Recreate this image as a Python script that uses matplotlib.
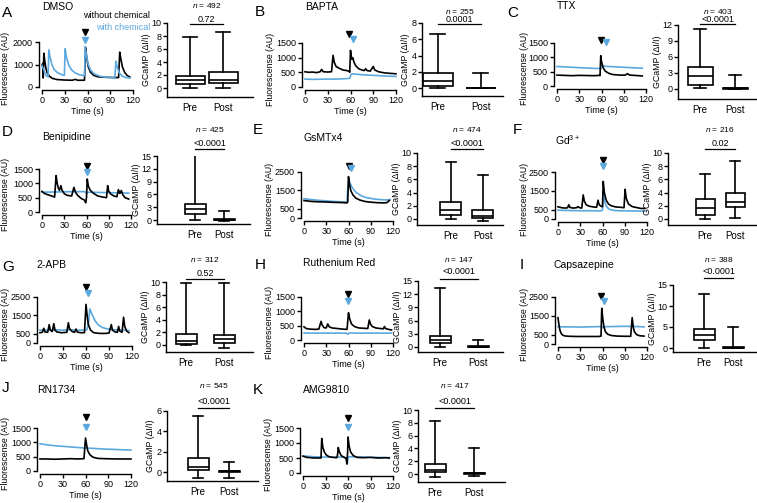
import matplotlib

matplotlib.use("Agg")
import matplotlib.pyplot as plt
from matplotlib.lines import Line2D

W, H = 757, 503
BLUE = "#5BA8DE"

plt.rcParams["font.family"] = ["Liberation Sans", "DejaVu Sans"]
plt.rcParams["mathtext.fontset"] = "custom"
plt.rcParams["mathtext.rm"] = "Liberation Sans"
plt.rcParams["mathtext.it"] = "Liberation Sans:italic"

# --- panel labels ---------------------------------------------------------
panels = ["A", "B", "C", "D", "E", "F", "G", "H", "I", "J", "K"]
drugs = ["DMSO", "BAPTA", "TTX", "Benipidine", "GsMTx4", "Gd$^{3+}$", "2-APB",
         "Ruthenium Red", "Capsazepine", "RN1734", "AMG9810"]
n_cells = [492, 255, 403, 425, 474, 216, 312, 147, 388, 545, 417]
p_values = ["0.72", "0.0001", "<0.0001", "<0.0001", "<0.0001", "0.02", "0.52",
            "<0.0001", "<0.0001", "<0.0001", "<0.0001"]

# --- example traces (time s, fluorescence AU) -----------------------------
trace_black = {
    "A": [(0, 950), (1, 1050), (1.6, 400), (2.4, 1500), (3.5, 1200), (5, 850), (7, 620),
          (10, 470), (14, 380), (20, 330), (30, 310), (40, 300), (44, 340), (47, 300),
          (56, 300), (57.5, 1750), (59, 1300), (61, 900), (64, 650), (68, 520), (74, 450),
          (85, 430), (95, 420), (101, 420), (102.5, 1550), (104, 1250), (106, 900),
          (109, 650), (112, 520), (116, 440)],
    "B": [(0, 520), (5, 500), (10, 510), (15, 490), (20, 520), (22, 600), (24, 520),
          (30, 510), (35, 520), (37, 1080), (38.5, 850), (41, 700), (45, 640), (50, 580),
          (55, 560), (58, 540), (59, 500), (60, 1250), (61.5, 950), (63, 1000),
          (64.5, 850), (67, 720), (71, 620), (75, 580), (78, 560), (80, 620), (82, 560),
          (86, 540), (90, 700), (92, 580), (97, 520), (105, 480), (110, 470), (115, 460),
          (120, 450)],
    "C": [(0, 380), (10, 370), (20, 360), (30, 370), (40, 365), (50, 360), (57, 370),
          (58, 360), (59, 1060), (60, 850), (62, 650), (65, 520), (70, 440), (75, 400),
          (85, 380), (92, 380), (95, 430), (98, 380), (105, 370), (115, 350)],
    "D": [(0, 720), (3, 650), (8, 600), (13, 560), (17, 520), (19, 1270), (20.5, 1000),
          (22, 830), (23.5, 760), (25.5, 920), (27, 760), (30, 640), (34, 580), (40, 560),
          (43, 860), (45, 700), (48, 580), (53, 470), (57, 420), (59, 320), (60, 500),
          (61, 1150), (62.5, 900), (65, 760), (69, 660), (75, 560), (82, 520), (87, 500),
          (88.5, 920), (90, 720), (93, 620), (97, 560), (101, 530), (103, 780), (105, 650),
          (107, 750), (109, 600), (112, 500), (117, 450)],
    "E": [(0, 950), (10, 900), (20, 880), (30, 870), (40, 850), (50, 840), (58, 820),
          (59, 880), (60, 2250), (61.5, 1800), (63, 1500), (66, 1250), (70, 1080),
          (75, 980), (82, 900), (90, 860), (100, 830), (108, 820), (112, 840), (115, 950)],
    "F": [(0, 650), (5, 600), (10, 580), (13, 600), (14.5, 760), (16, 620), (20, 580),
          (25, 600), (27, 660), (29, 600), (32, 580), (34, 1280), (35.5, 950), (38, 760),
          (42, 680), (48, 640), (52, 620), (54, 1000), (55.5, 760), (58, 680), (60, 650),
          (61, 2000), (62.5, 1400), (65, 1000), (68, 800), (72, 700), (78, 640), (85, 620),
          (89, 600), (90.5, 1580), (92, 1100), (95, 800), (100, 660), (107, 600),
          (112, 560), (117, 560)],
    "G": [(0, 560), (3, 580), (5, 800), (6.5, 600), (10, 580), (12, 1000), (13.5, 700),
          (16, 620), (18, 1050), (19.5, 700), (22, 600), (28, 560), (35, 580), (37, 1100),
          (38.5, 780), (42, 620), (45, 580), (47, 760), (48.5, 600), (53, 560), (58, 560),
          (60, 2100), (61.5, 1500), (63, 1000), (66, 700), (70, 560), (78, 520), (85, 520),
          (90, 540), (93, 1000), (94.5, 700), (98, 600), (101, 580), (102.5, 900),
          (104, 650), (107, 580), (109, 1400), (110.5, 900), (113, 650), (116, 560)],
    "H": [(0, 460), (3, 400), (8, 380), (15, 370), (20, 380), (23, 650), (24.5, 520),
          (27, 430), (30, 420), (32, 560), (34, 460), (38, 420), (45, 400), (52, 380),
          (58, 370), (60, 950), (61.5, 750), (64, 560), (68, 470), (74, 420), (80, 410),
          (86, 400), (88, 700), (89.5, 560), (92, 470), (97, 420), (103, 400), (107, 390),
          (108.5, 470), (110, 400), (114, 370), (118, 350)],
    "I": [(0, 1400), (1, 1100), (2.5, 750), (4, 580), (6, 480), (9, 430), (15, 410),
          (25, 400), (35, 400), (45, 400), (55, 400), (58, 420), (59, 1900), (60.5, 1300),
          (62, 900), (64, 650), (67, 520), (72, 450), (80, 420), (90, 410), (98, 410),
          (100, 1400), (101.5, 900), (103, 650), (106, 500), (110, 440), (116, 420)],
    "J": [(0, 420), (10, 420), (20, 410), (30, 420), (40, 430), (50, 420), (58, 430),
          (59, 800), (60, 1150), (61.5, 900), (63, 700), (66, 560), (70, 480), (76, 440),
          (85, 430), (100, 420), (120, 420)],
    "K": [(0, 560), (5, 520), (10, 510), (15, 500), (20, 500), (24, 500), (25, 1150),
          (26.5, 850), (28.5, 700), (31, 600), (35, 540), (40, 520), (45, 510), (46, 600),
          (47, 850), (48.5, 700), (51, 580), (55, 520), (57.5, 480), (58.5, 300),
          (59.5, 700), (60, 1200), (61.5, 900), (63.5, 700), (67, 580), (72, 520),
          (80, 510), (90, 520), (100, 500), (110, 510), (115, 500)],
}
trace_blue = {
    "A": [(0, 950), (2, 800), (5, 520), (8, 450), (9, 1650), (10.5, 1350), (13, 1000),
          (16, 780), (20, 650), (25, 560), (29.5, 520), (30.5, 1700), (32, 1350),
          (35, 1000), (39, 760), (44, 620), (50, 540), (56, 500), (57, 1800),
          (58.5, 1400), (61, 1000), (64, 750), (69, 580), (76, 480), (85, 430), (96, 400),
          (97.5, 1150), (99, 900), (102, 620), (106, 480), (111, 420), (116, 400)],
    "B": [(0, 270), (10, 260), (20, 265), (30, 270), (40, 270), (50, 280), (57, 290),
          (59, 300), (60.5, 420), (62, 450), (70, 430), (80, 410), (95, 390), (110, 370),
          (120, 360)],
    "C": [(0, 680), (15, 660), (30, 640), (45, 620), (57, 610), (59, 590), (61, 700),
          (70, 680), (85, 660), (100, 640), (115, 620)],
    "D": [(0, 690), (20, 700), (40, 710), (58, 710), (60, 640), (61, 690), (80, 680),
          (100, 670), (117, 660)],
    "E": [(0, 1050), (10, 1000), (20, 960), (30, 930), (40, 900), (50, 880), (58, 870),
          (60, 2150), (62, 1900), (65, 1650), (70, 1400), (76, 1230), (83, 1120),
          (92, 1050), (102, 1000), (110, 980), (116, 1000)],
    "F": [(0, 470), (15, 450), (30, 440), (45, 440), (58, 430), (60, 480), (61, 1500),
          (62.5, 1000), (65, 700), (68, 550), (72, 480), (80, 440), (95, 430), (110, 420),
          (117, 420)],
    "G": [(0, 700), (10, 700), (20, 720), (30, 700), (40, 720), (50, 700), (58, 700),
          (61, 720), (63, 1000), (65, 1850), (66.5, 1700), (69, 1450), (72, 1200),
          (76, 980), (81, 850), (88, 760), (95, 720), (105, 700), (116, 680)],
    "H": [(0, 240), (20, 240), (40, 240), (57, 240), (59, 200), (61, 245), (80, 240),
          (100, 240), (118, 240)],
    "I": [(0, 920), (10, 910), (20, 910), (30, 900), (40, 910), (50, 920), (58, 930),
          (60, 870), (62, 920), (75, 930), (90, 940), (105, 930), (116, 910)],
    "J": [(0, 950), (10, 910), (20, 880), (30, 860), (40, 840), (50, 820), (60, 800),
          (70, 790), (80, 770), (90, 760), (100, 750), (110, 740), (120, 730)],
    "K": [(0, 570), (5, 560), (15, 540), (30, 530), (45, 530), (55, 530), (58, 500),
          (59, 300), (60, 500), (61, 540), (70, 540), (85, 530), (100, 520), (115, 510)],
}
# chemical application marks: (time, level) for black and blue arrowheads
arrow_black = {"A": (57, 2440), "B": (58, 1800), "C": (59, 1600), "D": (61, 1600),
               "E": (60, 2830), "F": (60, 3140), "G": (60, 3040), "H": (59, 1600),
               "I": (58, 2550), "J": (60, 1880), "K": (60, 1830)}
arrow_blue = {"A": (57, 2090), "B": (63, 1640), "C": (66, 1530), "D": (61, 1400),
              "E": (64, 2700), "F": (60, 2820), "G": (63, 2720), "H": (59, 1360),
              "I": (62, 2290), "J": (60, 1530), "K": (60, 1530)}
trace_yticks = {"A": [0, 1000, 2000], "B": [0, 500, 1000, 1500], "C": [0, 500, 1000, 1500],
                "D": [0, 500, 1000, 1500], "E": [0, 500, 1500, 2500],
                "F": [0, 500, 1500, 2500], "G": [0, 500, 1500, 2500],
                "H": [0, 500, 1000, 1500], "I": [0, 500, 1500, 2500],
                "J": [0, 500, 1000, 1500], "K": [0, 500, 1000, 1500]}

# --- box plot summaries: (whislo, q1, med, q3, whishi) for Pre, Post -------
box_pre = {"A": (0, 0.6, 1.2, 1.9, 7.8), "B": (0, 0.2, 0.9, 1.8, 6.6),
           "C": (0.1, 0.8, 2.4, 4.2, 11.3), "D": (0, 1.4, 2.6, 3.8, 15.3),
           "E": (0, 0.6, 1.4, 2.6, 8.7), "F": (0, 0.6, 1.7, 3.1, 6.8),
           "G": (0, 0.2, 0.7, 1.7, 9.9), "H": (0, 0.8, 1.5, 2.4, 13.3),
           "I": (0, 1.8, 3.0, 4.5, 12.8), "J": (-0.6, 0.2, 0.5, 1.4, 5.5),
           "K": (-0.4, 0.3, 0.7, 1.6, 8.3)}
box_post = {"A": (0, 0.8, 1.3, 2.5, 8.6), "B": (0, 0, 0, 0, 1.9),
            "C": (0, 0, 0.1, 0.2, 2.6), "D": (-0.2, 0, 0.1, 0.2, 2.1),
            "E": (-0.3, 0.1, 0.5, 1.3, 6.7), "F": (0.1, 1.8, 2.6, 3.9, 8.8),
            "G": (-0.4, 0.3, 1.0, 1.6, 9.8), "H": (0, 0, 0.1, 0.2, 1.7),
            "I": (-0.1, 0, 0.1, 0.2, 4.9), "J": (-0.6, 0, 0.1, 0.1, 1.0),
            "K": (-0.3, 0, 0.1, 0.1, 4.0)}
box_yticks = {"A": [0, 2, 4, 6, 8, 10], "B": [0, 2, 4, 6, 8], "C": [0, 3, 6, 9, 12],
              "D": [0, 3, 6, 9, 12, 15], "E": [0, 2, 4, 6, 8, 10], "F": [0, 2, 4, 6, 8, 10],
              "G": [0, 2, 4, 6, 8, 10], "H": [0, 3, 6, 9, 12, 15], "I": [0, 5, 10, 15],
              "J": [0, 2, 4, 6], "K": [0, 2, 4, 6, 8, 10]}

# --- layout in pixels -------------------------------------------------------
# trace axes: x of t=0, x of t=120, y of 0, y of top tick, ylabel right edge
trace_px = {"A": (42, 133, 87, 42, 10), "B": (305, 396, 87, 43, 275),
            "C": (557, 646, 86, 43, 529), "D": (42, 131, 212, 169, 10),
            "E": (304, 393, 218, 172, 274), "F": (558, 647, 219, 172, 529),
            "G": (40, 132, 343, 297, 10), "H": (304, 393, 340, 297, 274),
            "I": (558, 647, 344, 297, 529), "J": (40, 131, 471, 428, 10),
            "K": (303, 393, 473, 428, 273)}
# box axes: left, right, y of 0, y of top tick, x-axis y, Pre x, Post x, box width
box_px = {"A": (167, 253, 88, 23, 97, 190, 223, 29),
          "B": (422, 503, 88, 23, 96, 438, 481, 30),
          "C": (678, 757, 89, 25, 99, 700, 735, 25),
          "D": (157, 250, 220, 156, 224, 195, 224, 21),
          "E": (417, 503, 219, 153, 225, 451, 483, 21),
          "F": (668, 757, 219, 153, 225, 705, 735, 19),
          "G": (166, 253, 345, 282, 352, 186, 224, 21),
          "H": (418, 503, 347, 281, 352, 440, 478, 21),
          "I": (673, 757, 348, 285, 352, 704, 733, 21),
          "J": (167, 258, 472, 411, 481, 198, 229, 21),
          "K": (418, 505, 474, 410, 482, 435, 474, 21)}
# y of "n =" text, p-value text, bracket line
stat_px = {"A": (6, 19, 24), "B": (11, 20, 24), "C": (11, 20, 24),
           "D": (129, 143, 149), "E": (129, 143, 149), "F": (129, 143, 149),
           "G": (260, 274, 279), "H": (260, 271, 279), "I": (260, 271, 278),
           "J": (386, 401, 408), "K": (386, 401, 408)}
# panel letter (x, y) and title (x, y)
letter_px = {"A": (2, 13), "B": (255, 12), "C": (507, 13), "D": (2, 132),
             "E": (253, 130), "F": (513, 130), "G": (2, 267), "H": (255, 265),
             "I": (520, 265), "J": (2, 388), "K": (253, 390)}
title_px = {"A": (42, 7), "B": (305, 7), "C": (557, 6), "D": (42, 137),
            "E": (303, 138), "F": (555, 140), "G": (36, 265), "H": (303, 263),
            "I": (553, 265), "J": (37, 390), "K": (303, 390)}


def rect(l, r, t, b):
    return [l / W, 1 - b / H, (r - l) / W, (b - t) / H]


def fy(y):
    return 1 - y / H


fig = plt.figure(figsize=(W / 100, H / 100), dpi=100)

for i, key in enumerate(panels):
    # trace panel
    x0, x1, y0, ytop, ylx = trace_px[key]
    yt = trace_yticks[key]
    ax = fig.add_axes(rect(x0, x1, ytop, y0))
    ax.set_xlim(0, 120)
    ax.set_ylim(0, yt[-1])
    bt, bv = zip(*trace_black[key])
    ut, uv = zip(*trace_blue[key])
    z_blue = 3 if key == "A" else 1
    ax.plot(ut, uv, color=BLUE, lw=1.2, clip_on=False, zorder=z_blue)
    ax.plot(bt, bv, color="black", lw=1.2, clip_on=False, zorder=2)
    ax.plot(*arrow_black[key], marker="v", color="black", ms=5, clip_on=False)
    ax.plot(*arrow_blue[key], marker="v", color=BLUE, ms=5, clip_on=False)
    ax.set_xticks([0, 30, 60, 90, 120])
    ax.set_yticks(yt)
    for s in ("top", "right"):
        ax.spines[s].set_visible(False)
    for s in ("left", "bottom"):
        ax.spines[s].set_position(("outward", 2))
        ax.spines[s].set_linewidth(1.0)
    ax.tick_params(labelsize=6.5, length=3, width=1.0, pad=1.5)
    ax.set_xlabel("Time (s)", fontsize=6.5, labelpad=1.5)
    ax.set_ylabel("Fluorescense (AU)", fontsize=6.3)
    ax.yaxis.set_label_coords(ylx / W, fy((ytop + y0) / 2 + 4), transform=fig.transFigure)

    # box panel
    l, r, zero, top, xax, pre, post, bw = box_px[key]
    bt_ = box_yticks[key]
    unit = post - pre
    bx = fig.add_axes(rect(l, r, top, xax))
    bx.set_xlim(1 - (pre - l) / unit, 2 + (r - post) / unit)
    bx.set_ylim(-(xax - zero) / (zero - top) * bt_[-1], bt_[-1])
    stats = []
    for vals in (box_pre[key], box_post[key]):
        lo, q1, med, q3, hi = vals
        stats.append(dict(whislo=lo, q1=q1, med=med, q3=q3, whishi=hi, fliers=[]))
    w = bw / unit
    bx.bxp(stats, positions=[1, 2], widths=w, capwidths=w * 0.5, showfliers=False,
           patch_artist=True,
           boxprops=dict(facecolor="white", edgecolor="black", linewidth=1.2),
           medianprops=dict(color="black", linewidth=1.2),
           whiskerprops=dict(color="black", linewidth=1.2),
           capprops=dict(color="black", linewidth=1.2))
    bx.set_xticks([1, 2])
    bx.set_xticklabels(["Pre", "Post"])
    bx.set_yticks(bt_)
    for s in ("top", "right"):
        bx.spines[s].set_visible(False)
    for s in ("left", "bottom"):
        bx.spines[s].set_linewidth(1.0)
    bx.tick_params(axis="x", length=0, labelsize=7, pad=4)
    bx.tick_params(axis="y", length=3, width=1.0, labelsize=6.5, pad=1)
    bx.set_ylabel("GCaMP (ΔI/I)", fontsize=6.3)
    shift = 16 if bt_[-1] >= 10 else 12
    bx.yaxis.set_label_coords((l - shift) / W, fy((top + xax) / 2), transform=fig.transFigure)

    # statistics text
    ny, py, ly = stat_px[key]
    mid = (pre + post) / 2
    fig.text(mid / W, fy(ny), f"$n$ = {n_cells[i]}", ha="center", va="center", fontsize=6)
    fig.text(mid / W, fy(py), p_values[i], ha="center", va="center", fontsize=6.5)
    fig.add_artist(Line2D([pre / W, post / W], [fy(ly), fy(ly)], color="black", lw=0.9,
                          transform=fig.transFigure))

    # letters and titles
    lx, lyy = letter_px[key]
    fig.text(lx / W, fy(lyy), key, ha="left", va="center", fontsize=11)
    tx, ty = title_px[key]
    fig.text(tx / W, fy(ty), drugs[i], ha="left", va="center", fontsize=7.5)

fig.text(150 / W, fy(15), "without chemical", ha="right", va="center", fontsize=6.5)
fig.text(150 / W, fy(27), "with chemical", ha="right", va="center", fontsize=6.5, color=BLUE)

fig.savefig("out.png", dpi=100)
